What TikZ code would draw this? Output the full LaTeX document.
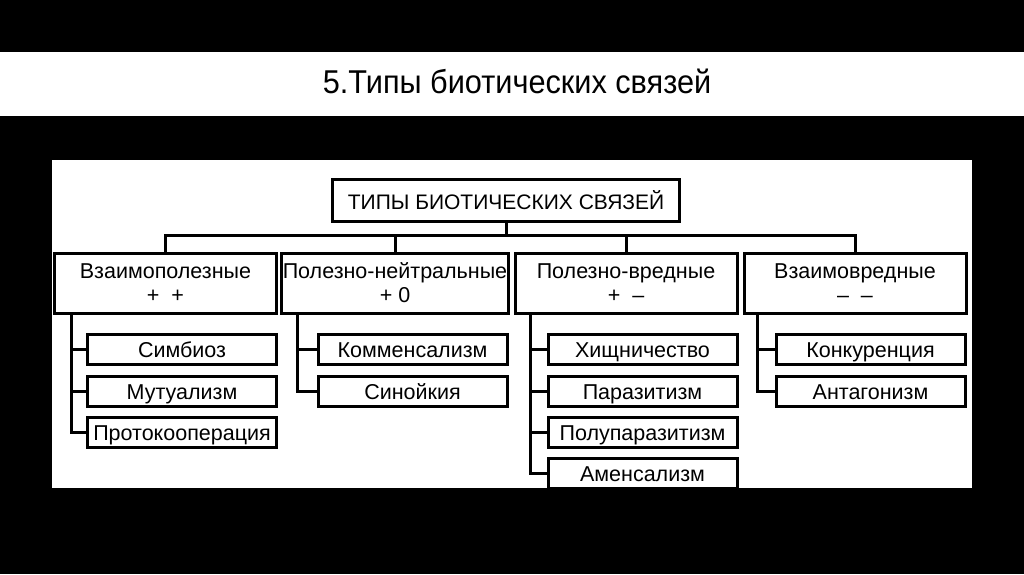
\documentclass[tikz,border=0pt]{standalone}
\usepackage{fontspec}
\setmainfont{Liberation Sans}
\newfontfamily\titlefont[FakeStretch=0.93]{Liberation Sans}
\usetikzlibrary{positioning}
\tikzset{link/.style={line width=3pt},
 rootbox/.style={draw,line width=3pt,minimum width=347pt,minimum height=42pt,
  font=\fontsize{21}{24}\selectfont},
 groupbox/.style={draw,line width=3pt,minimum width=222pt,minimum height=60pt,
  inner sep=1pt,align=center,font=\fontsize{21.5}{24}\selectfont},
 itembox/.style={draw,line width=3pt,minimum width=189pt,minimum height=30pt,
  inner sep=1pt,text height=16pt,text depth=0pt,font=\fontsize{21.5}{24}\selectfont}}

\begin{document}
\begin{tikzpicture}[x=1pt,y=-1pt]
\fill[black] (0,0) rectangle (1024,574);
\fill[white] (0,52) rectangle (1024,116);
\fill[white] (52,160) rectangle (972,488);
\node (title) at (517,81) {\titlefont\fontsize{33}{36}\selectfont 5.Типы биотических связей};
\node[rootbox] (root) at (506,200) {ТИПЫ БИОТИЧЕСКИХ СВЯЗЕЙ};
% groups
\node[groupbox] (mut) at (165.5,283) {Взаимополезные\\+\ \ +};
\node[groupbox] (neut) at (395,283) {Полезно-нейтральные\\+ 0};
\node[groupbox] (harm) at (626,283) {Полезно-вредные\\+\ \ –};
\node[groupbox] (dam) at (855,283) {Взаимовредные\\–\ \ –};
\coordinate (bar) at (512,235);
\draw[link] (root) -- (root.south |- bar);
\draw[link] (mut.north) |- (bar) -| (dam.north);
\draw[link] (neut.north) -- (neut.north |- bar);
\draw[link] (harm.north) -- (harm.north |- bar);
% items
\node[itembox] (simb) at (182,349) {Симбиоз};
\node[itembox] (mutu) at (182,391) {Мутуализм};
\node[itembox] (proto) at (182,432) {Протокооперация};
\node[itembox] (komm) at (412.5,349) {Комменсализм};
\node[itembox] (sin) at (412.5,391) {Синойкия};
\node[itembox] (hish) at (642.5,349) {Хищничество};
\node[itembox] (paraz) at (642.5,391) {Паразитизм};
\node[itembox] (polup) at (642.5,432) {Полупаразитизм};
\node[itembox] (amens) at (642.5,473) {Аменсализм};
\node[itembox] (konk) at (870.5,349) {Конкуренция};
\node[itembox] (antag) at (870.5,391) {Антагонизм};
\coordinate (mutS) at ([xshift=18]mut.south west);
\coordinate (neutS) at ([xshift=17]neut.south west);
\coordinate (harmS) at ([xshift=17]harm.south west);
\coordinate (damS) at ([xshift=15]dam.south west);
\draw[link] (mutS) |- (proto.west);
\draw[link] (simb.west) -- (simb.west -| mutS);
\draw[link] (mutu.west) -- (mutu.west -| mutS);
\draw[link] (neutS) |- (sin.west);
\draw[link] (komm.west) -- (komm.west -| neutS);
\draw[link] (harmS) |- (amens.west);
\draw[link] (hish.west) -- (hish.west -| harmS);
\draw[link] (paraz.west) -- (paraz.west -| harmS);
\draw[link] (polup.west) -- (polup.west -| harmS);
\draw[link] (damS) |- (antag.west);
\draw[link] (konk.west) -- (konk.west -| damS);
\end{tikzpicture}
\end{document}
